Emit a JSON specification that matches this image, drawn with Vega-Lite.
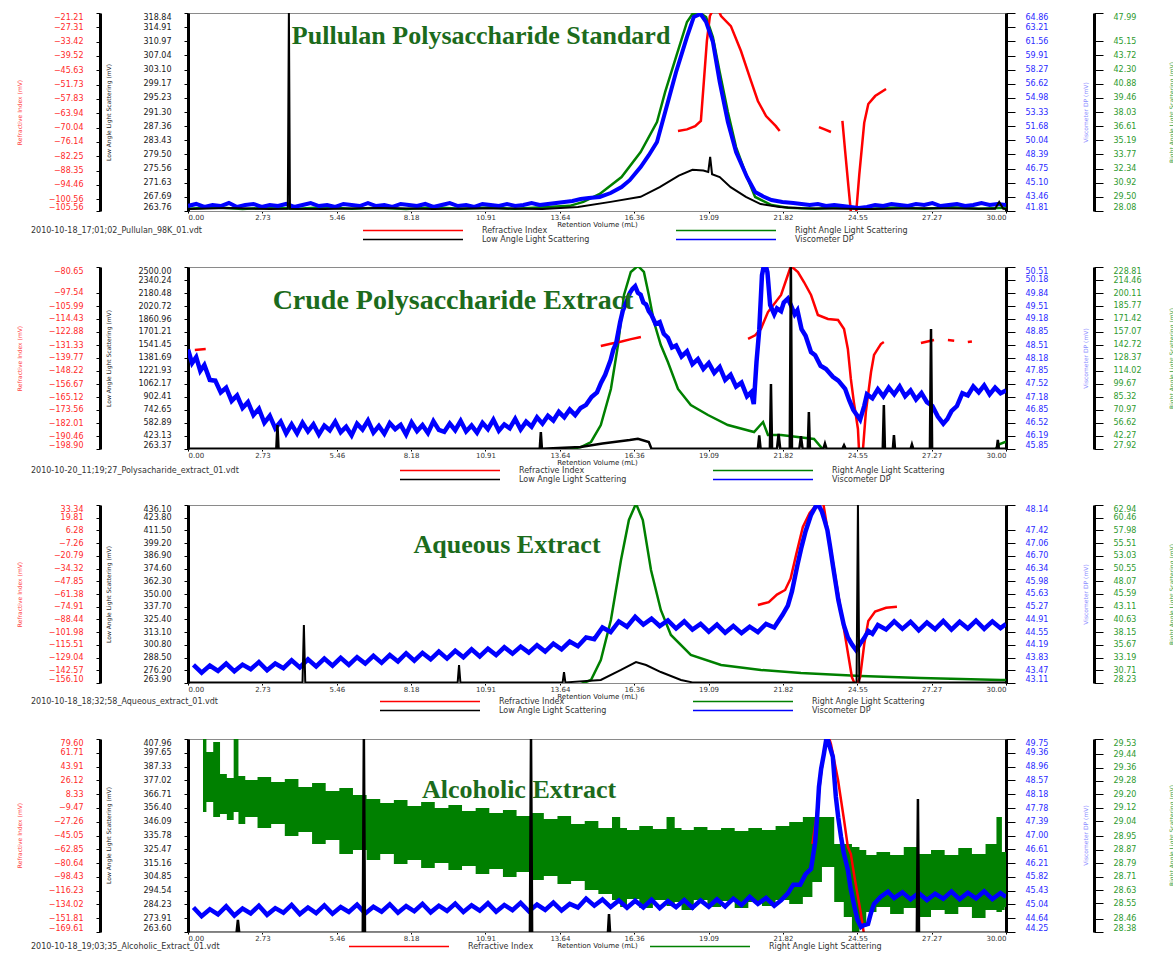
{
"$schema":"https://vega.github.io/schema/vega-lite/v6.json",
"background":"white",
"padding":{"left":15,"top":12,"right":0,"bottom":0},
"bounds":"flush",
"spacing":56,
"config":{"font":"DejaVu Sans","view":{"stroke":"#8a8a8a","strokeWidth":1},
"axis":{"grid":false,"labelOverlap":false,"labelFontSize":8,"titleFontWeight":"normal","domainColor":"#000","tickColor":"#000","labelFlush":true}},
"datasets":{
"p1_ri":[{"x":17.97,"v":-71.5,"g":1},{"x":18.3,"v":-70.8,"g":1},{"x":18.6,"v":-69.4,"g":1},{"x":18.81,"v":-67.2,"g":1},{"x":18.92,"v":-50.2,"g":1},{"x":19.03,"v":-33.1,"g":1},{"x":19.14,"v":-22.5,"g":1},{"x":19.25,"v":-20,"g":1},{"x":19.45,"v":-20,"g":1},{"x":19.55,"v":-22.5,"g":1},{"x":19.91,"v":-26.8,"g":1},{"x":20.28,"v":-37.4,"g":1},{"x":20.65,"v":-50.2,"g":1},{"x":20.9,"v":-58.7,"g":1},{"x":21.2,"v":-65.1,"g":1},{"x":21.56,"v":-69.4,"g":1},{"x":21.7,"v":-71.5,"g":1},{"x":23.14,"v":-69.8,"g":2},{"x":23.35,"v":-70.8,"g":2},{"x":23.58,"v":-71.9,"g":2},{"x":24.0,"v":-67.2,"g":3},{"x":24.1,"v":-80,"g":3},{"x":24.22,"v":-95,"g":3},{"x":24.32,"v":-107,"g":3},{"x":24.5,"v":-107,"g":3},{"x":24.62,"v":-90,"g":3},{"x":24.8,"v":-68,"g":3},{"x":24.95,"v":-60,"g":3},{"x":25.2,"v":-56.6,"g":3},{"x":25.6,"v":-53.6,"g":3}],
"p1_lals":[{"x":0,"v":264.3},{"x":1.5,"v":264.6},{"x":3.0,"v":264.3},{"x":3.66,"v":264.4},{"x":3.7,"v":320},{"x":3.74,"v":264.4},{"x":5,"v":264.3},{"x":7,"v":264.6},{"x":9,"v":264.3},{"x":11,"v":264.5},{"x":13,"v":264.3},{"x":14.3,"v":264.9},{"x":15.5,"v":266.3},{"x":16.6,"v":267.7},{"x":17.3,"v":270.4},{"x":18.0,"v":273.6},{"x":18.5,"v":275.2},{"x":18.9,"v":275.0},{"x":19.08,"v":274.6},{"x":19.15,"v":278.8},{"x":19.22,"v":274.0},{"x":19.5,"v":273.2},{"x":19.9,"v":270.4},{"x":20.46,"v":267.7},{"x":21.0,"v":265.7},{"x":21.7,"v":264.9},{"x":22.5,"v":264.5},{"x":25,"v":264.3},{"x":27,"v":264.5},{"x":29.6,"v":264.4},{"x":29.75,"v":266.3},{"x":29.9,"v":264.4},{"x":30,"v":264.3}],
"p1_dp":[{"x":0,"v":42.4},{"x":0.3,"v":42.63},{"x":0.6,"v":42.28},{"x":0.9,"v":42.51},{"x":1.2,"v":42.39},{"x":1.5,"v":42.74},{"x":1.8,"v":42.28},{"x":2.1,"v":42.51},{"x":2.4,"v":42.63},{"x":2.7,"v":42.28},{"x":3.0,"v":42.51},{"x":3.3,"v":42.39},{"x":3.6,"v":42.63},{"x":3.9,"v":42.28},{"x":4.2,"v":42.51},{"x":4.5,"v":42.74},{"x":4.8,"v":42.39},{"x":5.1,"v":42.51},{"x":5.4,"v":42.28},{"x":5.7,"v":42.63},{"x":6.0,"v":42.51},{"x":6.3,"v":42.39},{"x":6.6,"v":42.74},{"x":6.9,"v":42.39},{"x":7.2,"v":42.51},{"x":7.5,"v":42.28},{"x":7.8,"v":42.63},{"x":8.1,"v":42.51},{"x":8.4,"v":42.39},{"x":8.7,"v":42.63},{"x":9.0,"v":42.28},{"x":9.3,"v":42.51},{"x":9.6,"v":42.74},{"x":9.9,"v":42.39},{"x":10.2,"v":42.51},{"x":10.5,"v":42.28},{"x":10.8,"v":42.63},{"x":11.1,"v":42.51},{"x":11.4,"v":42.39},{"x":11.7,"v":42.63},{"x":12.0,"v":42.39},{"x":12.3,"v":42.51},{"x":12.6,"v":42.74},{"x":12.9,"v":42.51},{"x":13.2,"v":42.63},{"x":13.5,"v":42.74},{"x":13.8,"v":42.86},{"x":14.1,"v":42.98},{"x":14.4,"v":43.21},{"x":14.7,"v":43.33},{"x":15.1,"v":43.44},{"x":15.5,"v":43.9},{"x":15.9,"v":44.6},{"x":16.2,"v":45.4},{"x":16.6,"v":46.93},{"x":16.9,"v":48.3},{"x":17.2,"v":49.84},{"x":17.5,"v":53.34},{"x":17.9,"v":57.99},{"x":18.3,"v":62.07},{"x":18.55,"v":64.4},{"x":18.8,"v":64.74},{"x":19.0,"v":63.82},{"x":19.25,"v":61.49},{"x":19.5,"v":56.83},{"x":19.8,"v":52.17},{"x":20.1,"v":48.68},{"x":20.5,"v":45.77},{"x":20.8,"v":44.02},{"x":21.1,"v":43.5},{"x":21.4,"v":43.09},{"x":21.8,"v":42.86},{"x":22.2,"v":42.74},{"x":22.5,"v":42.63},{"x":22.8,"v":42.51},{"x":23.1,"v":42.63},{"x":23.4,"v":42.39},{"x":23.7,"v":42.51},{"x":24.0,"v":42.39},{"x":24.3,"v":42.28},{"x":24.6,"v":42.16},{"x":24.9,"v":42.28},{"x":25.2,"v":42.51},{"x":25.5,"v":42.39},{"x":25.8,"v":42.63},{"x":26.1,"v":42.51},{"x":26.4,"v":42.39},{"x":26.7,"v":42.63},{"x":27.0,"v":42.51},{"x":27.3,"v":42.74},{"x":27.6,"v":42.39},{"x":27.9,"v":42.51},{"x":28.2,"v":42.63},{"x":28.5,"v":42.39},{"x":28.8,"v":42.51},{"x":29.1,"v":42.74},{"x":29.4,"v":42.51},{"x":29.7,"v":42.63},{"x":30.0,"v":42.51}],
"p1_rals":[{"x":0,"v":28.3},{"x":1,"v":28.45},{"x":2,"v":28.28},{"x":3,"v":28.42},{"x":4,"v":28.3},{"x":5,"v":28.45},{"x":6,"v":28.3},{"x":7,"v":28.4},{"x":8,"v":28.28},{"x":9,"v":28.45},{"x":10,"v":28.3},{"x":11,"v":28.42},{"x":12,"v":28.3},{"x":13,"v":28.45},{"x":14.0,"v":28.6},{"x":14.5,"v":29.0},{"x":15.1,"v":29.79},{"x":15.9,"v":31.5},{"x":16.6,"v":34.01},{"x":17.2,"v":37.03},{"x":17.5,"v":40.05},{"x":17.9,"v":43.57},{"x":18.3,"v":47.09},{"x":18.5,"v":47.89},{"x":18.8,"v":47.95},{"x":19.0,"v":47.59},{"x":19.25,"v":45.58},{"x":19.5,"v":42.06},{"x":19.8,"v":38.04},{"x":20.1,"v":34.51},{"x":20.5,"v":31.5},{"x":20.8,"v":29.49},{"x":21.4,"v":28.68},{"x":22.0,"v":28.4},{"x":23,"v":28.3},{"x":24,"v":28.45},{"x":25,"v":28.3},{"x":26,"v":28.42},{"x":27,"v":28.3},{"x":28,"v":28.45},{"x":29,"v":28.3},{"x":30,"v":28.4}],
"p2_ri":[{"x":0.25,"v":-134.6,"g":1},{"x":0.65,"v":-134.0,"g":1},{"x":15.14,"v":-132.0,"g":2},{"x":15.5,"v":-130.5,"g":2},{"x":15.9,"v":-129.0,"g":2},{"x":16.25,"v":-127.5,"g":2},{"x":16.61,"v":-126.1,"g":2},{"x":20.54,"v":-127.4,"g":3},{"x":20.8,"v":-125,"g":3},{"x":21.01,"v":-120.9,"g":3},{"x":21.27,"v":-109.9,"g":3},{"x":21.75,"v":-98.85,"g":3},{"x":22.0,"v":-85.85,"g":3},{"x":22.11,"v":-80.0,"g":3},{"x":22.37,"v":-83.9,"g":3},{"x":22.59,"v":-90.4,"g":3},{"x":22.85,"v":-98.85,"g":3},{"x":23.1,"v":-111.8,"g":3},{"x":23.47,"v":-114.4,"g":3},{"x":23.84,"v":-115.1,"g":3},{"x":24.06,"v":-120.9,"g":3},{"x":24.2,"v":-133.9,"g":3},{"x":24.31,"v":-153.4,"g":3},{"x":24.42,"v":-168.4,"g":3},{"x":24.57,"v":-185.9,"g":3},{"x":24.61,"v":-200,"g":3},{"x":24.75,"v":-200,"g":3},{"x":24.86,"v":-174.9,"g":3},{"x":25.05,"v":-148.9,"g":3},{"x":25.16,"v":-137.8,"g":3},{"x":25.41,"v":-130.7,"g":3},{"x":25.52,"v":-129.4,"g":3},{"x":26.88,"v":-130.0,"g":4},{"x":27.36,"v":-128.1,"g":4},{"x":27.87,"v":-128.1,"g":5},{"x":28.1,"v":-128.5,"g":5},{"x":28.6,"v":-129.4,"g":6},{"x":28.75,"v":-129.0,"g":6}],
"p2_lals":[{"x":0,"v":265},{"x":3.24,"v":265},{"x":3.28,"v":558},{"x":3.32,"v":265},{"x":12.9,"v":265},{"x":12.94,"v":470},{"x":12.98,"v":265},{"x":14.4,"v":288},{"x":15.2,"v":330},{"x":16.2,"v":374},{"x":16.5,"v":390},{"x":16.9,"v":350},{"x":17.0,"v":265},{"x":20.9,"v":265},{"x":20.95,"v":430},{"x":21.0,"v":265},{"x":21.34,"v":265},{"x":21.38,"v":1062},{"x":21.42,"v":265},{"x":21.6,"v":265},{"x":21.66,"v":450},{"x":21.72,"v":265},{"x":22.07,"v":265},{"x":22.11,"v":2550},{"x":22.15,"v":265},{"x":22.42,"v":265},{"x":22.48,"v":420},{"x":22.54,"v":265},{"x":22.73,"v":265},{"x":22.77,"v":718},{"x":22.81,"v":265},{"x":23.3,"v":265},{"x":23.36,"v":330},{"x":23.42,"v":265},{"x":24.0,"v":265},{"x":24.06,"v":310},{"x":24.12,"v":265},{"x":25.48,"v":265},{"x":25.52,"v":804},{"x":25.56,"v":265},{"x":25.85,"v":265},{"x":25.89,"v":435},{"x":25.93,"v":265},{"x":26.5,"v":265},{"x":26.55,"v":320},{"x":26.6,"v":265},{"x":27.21,"v":265},{"x":27.25,"v":1738},{"x":27.29,"v":265},{"x":29.66,"v":265},{"x":29.7,"v":374},{"x":29.74,"v":265},{"x":30,"v":265}],
"p2_dp":[{"x":0.0,"v":48.4},{"x":0.15,"v":48.05},{"x":0.3,"v":48.2},{"x":0.45,"v":47.85},{"x":0.6,"v":48.0},{"x":0.8,"v":47.62},{"x":1.0,"v":47.6},{"x":1.2,"v":47.3},{"x":1.4,"v":47.42},{"x":1.6,"v":47.08},{"x":1.8,"v":47.22},{"x":2.0,"v":46.9},{"x":2.2,"v":47.05},{"x":2.4,"v":46.72},{"x":2.6,"v":46.88},{"x":2.8,"v":46.52},{"x":3.0,"v":46.7},{"x":3.2,"v":46.38},{"x":3.4,"v":46.55},{"x":3.6,"v":46.25},{"x":3.8,"v":46.48},{"x":4.0,"v":46.25},{"x":4.2,"v":46.52},{"x":4.4,"v":46.3},{"x":4.6,"v":46.48},{"x":4.8,"v":46.22},{"x":5.0,"v":46.45},{"x":5.2,"v":46.33},{"x":5.4,"v":46.55},{"x":5.6,"v":46.28},{"x":5.8,"v":46.42},{"x":6.0,"v":46.2},{"x":6.2,"v":46.5},{"x":6.4,"v":46.35},{"x":6.6,"v":46.58},{"x":6.8,"v":46.27},{"x":7.0,"v":46.44},{"x":7.2,"v":46.24},{"x":7.4,"v":46.51},{"x":7.6,"v":46.36},{"x":7.8,"v":46.47},{"x":8.0,"v":46.22},{"x":8.2,"v":46.53},{"x":8.4,"v":46.31},{"x":8.6,"v":46.46},{"x":8.8,"v":46.26},{"x":9.0,"v":46.56},{"x":9.2,"v":46.34},{"x":9.4,"v":46.29},{"x":9.6,"v":46.5},{"x":9.8,"v":46.33},{"x":10.0,"v":46.57},{"x":10.2,"v":46.3},{"x":10.4,"v":46.45},{"x":10.6,"v":46.27},{"x":10.8,"v":46.52},{"x":11.0,"v":46.36},{"x":11.2,"v":46.6},{"x":11.4,"v":46.32},{"x":11.6,"v":46.48},{"x":11.8,"v":46.38},{"x":12.0,"v":46.62},{"x":12.2,"v":46.35},{"x":12.4,"v":46.55},{"x":12.6,"v":46.42},{"x":12.8,"v":46.66},{"x":13.0,"v":46.5},{"x":13.2,"v":46.7},{"x":13.4,"v":46.58},{"x":13.6,"v":46.8},{"x":13.8,"v":46.66},{"x":14.0,"v":46.86},{"x":14.2,"v":46.72},{"x":14.4,"v":46.9},{"x":14.6,"v":46.98},{"x":14.8,"v":47.18},{"x":15.0,"v":47.3},{"x":15.15,"v":47.55},{"x":15.3,"v":47.75},{"x":15.5,"v":48.13},{"x":15.6,"v":48.4},{"x":15.7,"v":48.55},{"x":15.85,"v":49.1},{"x":15.95,"v":49.4},{"x":16.1,"v":49.65},{"x":16.2,"v":49.84},{"x":16.3,"v":49.95},{"x":16.4,"v":50.02},{"x":16.5,"v":49.85},{"x":16.6,"v":49.8},{"x":16.7,"v":49.6},{"x":16.8,"v":49.55},{"x":16.9,"v":49.38},{"x":17.0,"v":49.28},{"x":17.15,"v":49.05},{"x":17.3,"v":49.1},{"x":17.45,"v":48.8},{"x":17.6,"v":48.7},{"x":17.75,"v":48.45},{"x":17.9,"v":48.5},{"x":18.1,"v":48.22},{"x":18.3,"v":48.35},{"x":18.5,"v":48.02},{"x":18.7,"v":48.15},{"x":18.9,"v":47.9},{"x":19.1,"v":48.05},{"x":19.3,"v":47.8},{"x":19.5,"v":47.95},{"x":19.7,"v":47.62},{"x":19.9,"v":47.75},{"x":20.1,"v":47.45},{"x":20.3,"v":47.55},{"x":20.5,"v":47.2},{"x":20.65,"v":47.3},{"x":20.75,"v":47.0},{"x":20.85,"v":48.08},{"x":20.95,"v":48.9},{"x":21.05,"v":50.3},{"x":21.15,"v":50.65},{"x":21.25,"v":50.38},{"x":21.35,"v":49.54},{"x":21.5,"v":49.3},{"x":21.6,"v":49.45},{"x":21.75,"v":49.38},{"x":21.85,"v":49.6},{"x":22.0,"v":49.7},{"x":22.1,"v":49.55},{"x":22.25,"v":49.3},{"x":22.35,"v":49.4},{"x":22.5,"v":48.92},{"x":22.65,"v":48.75},{"x":22.85,"v":48.33},{"x":23.0,"v":48.25},{"x":23.2,"v":47.98},{"x":23.4,"v":47.9},{"x":23.65,"v":47.7},{"x":23.85,"v":47.6},{"x":24.1,"v":47.39},{"x":24.25,"v":47.1},{"x":24.4,"v":46.85},{"x":24.55,"v":46.7},{"x":24.65,"v":46.6},{"x":24.8,"v":46.95},{"x":24.9,"v":47.25},{"x":25.1,"v":47.15},{"x":25.3,"v":47.38},{"x":25.5,"v":47.2},{"x":25.7,"v":47.42},{"x":25.9,"v":47.25},{"x":26.1,"v":47.45},{"x":26.3,"v":47.2},{"x":26.5,"v":47.35},{"x":26.7,"v":47.12},{"x":26.9,"v":47.28},{"x":27.1,"v":47.05},{"x":27.3,"v":46.95},{"x":27.5,"v":46.68},{"x":27.7,"v":46.5},{"x":27.85,"v":46.62},{"x":28.0,"v":46.82},{"x":28.2,"v":46.95},{"x":28.4,"v":47.28},{"x":28.6,"v":47.22},{"x":28.8,"v":47.45},{"x":29.0,"v":47.3},{"x":29.2,"v":47.48},{"x":29.4,"v":47.25},{"x":29.6,"v":47.42},{"x":29.8,"v":47.28},{"x":30.0,"v":47.35}],
"p2_rals":[{"x":0,"v":27.0},{"x":14.0,"v":27.5},{"x":14.41,"v":30.13},{"x":14.78,"v":35.65},{"x":15.14,"v":54.41},{"x":15.51,"v":94.15},{"x":15.77,"v":142.7},{"x":15.99,"v":197.9},{"x":16.24,"v":223.3},{"x":16.5,"v":230},{"x":16.72,"v":223.3},{"x":16.9,"v":197.9},{"x":17.09,"v":168.1},{"x":17.34,"v":142.7},{"x":17.6,"v":123.9},{"x":17.97,"v":94.15},{"x":18.44,"v":76.49},{"x":19.07,"v":65.45},{"x":19.8,"v":54.41},{"x":20.76,"v":46.68},{"x":21.09,"v":57.72},{"x":21.27,"v":43.37},{"x":21.75,"v":43.37},{"x":22.96,"v":38.96},{"x":23.3,"v":27.0},{"x":29.6,"v":27.0},{"x":29.75,"v":33},{"x":30,"v":36}],
"p3_ri":[{"x":20.9,"v":-73.1},{"x":21.3,"v":-70},{"x":21.6,"v":-62},{"x":21.9,"v":-57.1},{"x":22.1,"v":-45},{"x":22.3,"v":-20},{"x":22.55,"v":10},{"x":22.8,"v":25},{"x":23.05,"v":33.5},{"x":23.3,"v":35},{"x":23.45,"v":8},{"x":23.7,"v":-36},{"x":23.95,"v":-80},{"x":24.15,"v":-115},{"x":24.35,"v":-150},{"x":24.5,"v":-160},{"x":24.65,"v":-150},{"x":24.8,"v":-115},{"x":24.95,"v":-90},{"x":25.2,"v":-80},{"x":25.6,"v":-76},{"x":26.0,"v":-75}],
"p3_lals":[{"x":0,"v":264.5},{"x":4.2,"v":264.5},{"x":4.25,"v":320},{"x":4.3,"v":264.5},{"x":9.89,"v":264.5},{"x":9.94,"v":281.3},{"x":9.99,"v":264.5},{"x":13.74,"v":264.5},{"x":13.79,"v":274.5},{"x":13.84,"v":264.5},{"x":15.14,"v":266.8},{"x":15.88,"v":276.5},{"x":16.43,"v":284.2},{"x":16.8,"v":281.3},{"x":17.34,"v":274.5},{"x":18.08,"v":266.8},{"x":18.5,"v":264.5},{"x":24.52,"v":264.5},{"x":24.57,"v":437},{"x":24.62,"v":264.5},{"x":30,"v":264.5}],
"p3_dp":[{"x":0.2,"v":43.62},{"x":0.5,"v":43.4},{"x":0.8,"v":43.6},{"x":1.1,"v":43.45},{"x":1.4,"v":43.66},{"x":1.7,"v":43.44},{"x":2.0,"v":43.63},{"x":2.3,"v":43.5},{"x":2.6,"v":43.7},{"x":2.9,"v":43.47},{"x":3.2,"v":43.66},{"x":3.5,"v":43.53},{"x":3.8,"v":43.75},{"x":4.1,"v":43.55},{"x":4.4,"v":43.78},{"x":4.7,"v":43.58},{"x":5.0,"v":43.8},{"x":5.3,"v":43.6},{"x":5.6,"v":43.82},{"x":5.9,"v":43.62},{"x":6.2,"v":43.84},{"x":6.5,"v":43.66},{"x":6.8,"v":43.88},{"x":7.1,"v":43.68},{"x":7.4,"v":43.9},{"x":7.7,"v":43.72},{"x":8.0,"v":43.95},{"x":8.3,"v":43.74},{"x":8.6,"v":43.96},{"x":8.9,"v":43.78},{"x":9.2,"v":44.0},{"x":9.5,"v":43.8},{"x":9.8,"v":44.02},{"x":10.1,"v":43.84},{"x":10.4,"v":44.06},{"x":10.7,"v":43.86},{"x":11.0,"v":44.08},{"x":11.3,"v":43.9},{"x":11.6,"v":44.12},{"x":11.9,"v":43.94},{"x":12.2,"v":44.14},{"x":12.5,"v":43.97},{"x":12.8,"v":44.18},{"x":13.1,"v":44.0},{"x":13.4,"v":44.22},{"x":13.7,"v":44.06},{"x":14.0,"v":44.28},{"x":14.3,"v":44.15},{"x":14.6,"v":44.4},{"x":14.9,"v":44.35},{"x":15.2,"v":44.68},{"x":15.5,"v":44.55},{"x":15.8,"v":44.85},{"x":16.1,"v":44.7},{"x":16.4,"v":44.98},{"x":16.7,"v":44.76},{"x":17.0,"v":44.93},{"x":17.3,"v":44.72},{"x":17.6,"v":44.88},{"x":17.9,"v":44.65},{"x":18.2,"v":44.85},{"x":18.5,"v":44.62},{"x":18.8,"v":44.78},{"x":19.1,"v":44.56},{"x":19.4,"v":44.76},{"x":19.7,"v":44.53},{"x":20.0,"v":44.72},{"x":20.3,"v":44.52},{"x":20.6,"v":44.7},{"x":20.9,"v":44.55},{"x":21.2,"v":44.78},{"x":21.5,"v":44.68},{"x":21.8,"v":45.03},{"x":22.0,"v":45.3},{"x":22.15,"v":45.7},{"x":22.35,"v":46.44},{"x":22.5,"v":46.95},{"x":22.65,"v":47.4},{"x":22.85,"v":47.86},{"x":23.05,"v":48.14},{"x":23.15,"v":48.1},{"x":23.25,"v":47.95},{"x":23.35,"v":47.7},{"x":23.45,"v":47.43},{"x":23.55,"v":46.95},{"x":23.65,"v":46.44},{"x":23.75,"v":45.95},{"x":23.85,"v":45.46},{"x":23.95,"v":45.1},{"x":24.05,"v":44.75},{"x":24.2,"v":44.4},{"x":24.35,"v":44.2},{"x":24.5,"v":44.04},{"x":24.65,"v":44.22},{"x":24.8,"v":44.38},{"x":24.95,"v":44.58},{"x":25.1,"v":44.5},{"x":25.3,"v":44.75},{"x":25.6,"v":44.62},{"x":25.9,"v":44.85},{"x":26.2,"v":44.64},{"x":26.5,"v":44.84},{"x":26.8,"v":44.6},{"x":27.1,"v":44.82},{"x":27.4,"v":44.63},{"x":27.7,"v":44.86},{"x":28.0,"v":44.62},{"x":28.3,"v":44.84},{"x":28.6,"v":44.65},{"x":28.9,"v":44.87},{"x":29.2,"v":44.64},{"x":29.5,"v":44.85},{"x":29.8,"v":44.66},{"x":30.0,"v":44.78}],
"p3_rals":[{"x":0,"v":28.0},{"x":14.4,"v":28.0},{"x":14.78,"v":28.82},{"x":15.14,"v":32.72},{"x":15.51,"v":40.52},{"x":15.88,"v":52.22},{"x":16.17,"v":60.02},{"x":16.43,"v":63.2},{"x":16.68,"v":60.02},{"x":16.98,"v":50.27},{"x":17.34,"v":42.47},{"x":17.71,"v":37.59},{"x":18.44,"v":33.69},{"x":19.55,"v":31.74},{"x":21.01,"v":30.77},{"x":22.48,"v":30.18},{"x":24.68,"v":29.6},{"x":26.88,"v":29.21},{"x":29.81,"v":28.82},{"x":30,"v":28.8}],
"p4_ri":[{"x":22.9,"v":-56},{"x":23.05,"v":-20},{"x":23.2,"v":30},{"x":23.35,"v":70},{"x":23.5,"v":82},{"x":23.58,"v":73.2},{"x":23.84,"v":26.7},{"x":24.06,"v":-25.0},{"x":24.2,"v":-59.8},{"x":24.31,"v":-68.9},{"x":24.45,"v":-100},{"x":24.68,"v":-146.4},{"x":24.79,"v":-172.2}],
"p4_lals":[{"x":0,"v":263},{"x":1.78,"v":263},{"x":1.83,"v":272.6},{"x":1.88,"v":263},{"x":6.41,"v":263},{"x":6.45,"v":410},{"x":6.49,"v":263},{"x":12.54,"v":263},{"x":12.58,"v":410},{"x":12.62,"v":263},{"x":15.4,"v":263},{"x":15.44,"v":277.1},{"x":15.48,"v":263},{"x":26.73,"v":263},{"x":26.77,"v":363.1},{"x":26.81,"v":263},{"x":30,"v":263}],
"p4_dp":[{"x":0.2,"v":44.95},{"x":0.5,"v":44.7},{"x":0.8,"v":44.9},{"x":1.1,"v":44.75},{"x":1.4,"v":44.98},{"x":1.7,"v":44.72},{"x":2.0,"v":44.92},{"x":2.3,"v":44.78},{"x":2.6,"v":45.0},{"x":2.9,"v":44.74},{"x":3.2,"v":44.93},{"x":3.5,"v":44.8},{"x":3.8,"v":45.02},{"x":4.1,"v":44.76},{"x":4.4,"v":44.95},{"x":4.7,"v":44.79},{"x":5.0,"v":45.01},{"x":5.3,"v":44.77},{"x":5.6,"v":44.96},{"x":5.9,"v":44.82},{"x":6.2,"v":45.03},{"x":6.5,"v":44.78},{"x":6.8,"v":44.97},{"x":7.1,"v":44.83},{"x":7.4,"v":45.04},{"x":7.7,"v":44.8},{"x":8.0,"v":44.99},{"x":8.3,"v":44.84},{"x":8.6,"v":45.05},{"x":8.9,"v":44.81},{"x":9.2,"v":45.0},{"x":9.5,"v":44.85},{"x":9.8,"v":45.06},{"x":10.1,"v":44.82},{"x":10.4,"v":45.01},{"x":10.7,"v":44.86},{"x":11.0,"v":45.07},{"x":11.3,"v":44.83},{"x":11.6,"v":45.02},{"x":11.9,"v":44.87},{"x":12.2,"v":45.08},{"x":12.5,"v":44.84},{"x":12.8,"v":45.03},{"x":13.1,"v":44.88},{"x":13.4,"v":45.09},{"x":13.7,"v":44.86},{"x":14.0,"v":45.05},{"x":14.3,"v":44.95},{"x":14.6,"v":45.2},{"x":14.9,"v":45.0},{"x":15.2,"v":45.18},{"x":15.5,"v":44.96},{"x":15.8,"v":45.15},{"x":16.1,"v":44.94},{"x":16.4,"v":45.14},{"x":16.7,"v":44.95},{"x":17.0,"v":45.17},{"x":17.3,"v":44.93},{"x":17.6,"v":45.13},{"x":17.9,"v":44.96},{"x":18.2,"v":45.16},{"x":18.5,"v":44.94},{"x":18.8,"v":45.15},{"x":19.1,"v":44.97},{"x":19.4,"v":45.18},{"x":19.7,"v":44.98},{"x":20.0,"v":45.2},{"x":20.3,"v":45.02},{"x":20.6,"v":45.25},{"x":20.9,"v":45.05},{"x":21.2,"v":45.22},{"x":21.5,"v":45.0},{"x":21.75,"v":45.15},{"x":22.0,"v":45.35},{"x":22.2,"v":45.6},{"x":22.45,"v":45.6},{"x":22.65,"v":45.9},{"x":22.85,"v":46.05},{"x":23.0,"v":46.8},{"x":23.08,"v":47.6},{"x":23.14,"v":48.38},{"x":23.22,"v":48.9},{"x":23.32,"v":49.32},{"x":23.4,"v":49.7},{"x":23.47,"v":49.72},{"x":23.55,"v":49.5},{"x":23.65,"v":49.24},{"x":23.7,"v":48.7},{"x":23.76,"v":48.1},{"x":23.85,"v":47.5},{"x":23.95,"v":46.96},{"x":24.05,"v":46.5},{"x":24.2,"v":46.02},{"x":24.3,"v":45.5},{"x":24.42,"v":45.05},{"x":24.55,"v":44.6},{"x":24.68,"v":44.39},{"x":24.8,"v":44.45},{"x":24.94,"v":44.48},{"x":25.05,"v":44.8},{"x":25.16,"v":45.05},{"x":25.4,"v":45.25},{"x":25.67,"v":45.4},{"x":25.9,"v":45.22},{"x":26.2,"v":45.38},{"x":26.5,"v":45.18},{"x":26.8,"v":45.36},{"x":27.1,"v":45.16},{"x":27.4,"v":45.34},{"x":27.7,"v":45.2},{"x":28.0,"v":45.4},{"x":28.3,"v":45.18},{"x":28.6,"v":45.37},{"x":28.9,"v":45.21},{"x":29.2,"v":45.41},{"x":29.5,"v":45.19},{"x":29.8,"v":45.36},{"x":30.0,"v":45.25}],
"p4_rals":[{"x":0.55,"hi":29.56,"lo":29.095},{"x":0.8,"hi":29.453,"lo":29.155},{"x":1.05,"hi":29.512,"lo":29.065},{"x":1.3,"hi":29.322,"lo":29.083},{"x":1.55,"hi":29.298,"lo":29.047},{"x":1.8,"hi":29.56,"lo":29.095},{"x":1.9,"hi":29.31,"lo":29.024},{"x":2.3,"hi":29.286,"lo":29.065},{"x":2.8,"hi":29.304,"lo":29.0},{"x":3.3,"hi":29.274,"lo":29.024},{"x":3.8,"hi":29.292,"lo":28.952},{"x":4.3,"hi":29.244,"lo":28.976},{"x":4.8,"hi":29.268,"lo":28.904},{"x":5.3,"hi":29.22,"lo":28.928},{"x":5.8,"hi":29.238,"lo":28.845},{"x":6.3,"hi":29.196,"lo":28.869},{"x":6.8,"hi":29.173,"lo":28.809},{"x":7.3,"hi":29.149,"lo":28.845},{"x":7.8,"hi":29.167,"lo":28.785},{"x":8.3,"hi":29.131,"lo":28.809},{"x":8.8,"hi":29.155,"lo":28.761},{"x":9.3,"hi":29.119,"lo":28.791},{"x":9.8,"hi":29.137,"lo":28.75},{"x":10.3,"hi":29.101,"lo":28.773},{"x":10.8,"hi":29.119,"lo":28.726},{"x":11.3,"hi":29.089,"lo":28.755},{"x":11.8,"hi":29.107,"lo":28.708},{"x":12.3,"hi":29.071,"lo":28.738},{"x":12.8,"hi":29.089,"lo":28.69},{"x":13.3,"hi":29.053,"lo":28.714},{"x":13.8,"hi":29.071,"lo":28.666},{"x":14.3,"hi":29.024,"lo":28.684},{"x":14.8,"hi":29.041,"lo":28.63},{"x":15.3,"hi":29.0,"lo":28.606},{"x":15.8,"hi":29.065,"lo":28.571},{"x":15.9,"hi":29.0,"lo":28.529},{"x":16.3,"hi":28.988,"lo":28.577},{"x":16.8,"hi":29.012,"lo":28.523},{"x":17.3,"hi":28.994,"lo":28.571},{"x":17.8,"hi":29.065,"lo":28.535},{"x":17.9,"hi":29.0,"lo":28.559},{"x":18.3,"hi":28.988,"lo":28.511},{"x":18.8,"hi":29.006,"lo":28.571},{"x":19.3,"hi":28.988,"lo":28.529},{"x":19.8,"hi":29.0,"lo":28.565},{"x":20.3,"hi":28.982,"lo":28.523},{"x":20.8,"hi":29.0,"lo":28.559},{"x":21.3,"hi":28.988,"lo":28.535},{"x":21.8,"hi":29.012,"lo":28.571},{"x":22.3,"hi":29.036,"lo":28.547},{"x":22.8,"hi":29.065,"lo":28.589},{"x":23.0,"hi":29.065,"lo":28.678},{"x":23.5,"hi":29.065,"lo":28.767},{"x":23.9,"hi":28.904,"lo":28.559},{"x":24.2,"hi":28.904,"lo":28.469},{"x":24.5,"hi":28.887,"lo":28.37},{"x":24.75,"hi":28.869,"lo":28.41},{"x":25.0,"hi":28.839,"lo":28.499},{"x":25.5,"hi":28.857,"lo":28.529},{"x":26.0,"hi":28.839,"lo":28.487},{"x":26.5,"hi":28.887,"lo":28.523},{"x":27.0,"hi":28.845,"lo":28.469},{"x":27.5,"hi":28.869,"lo":28.511},{"x":28.0,"hi":28.839,"lo":28.487},{"x":28.5,"hi":28.881,"lo":28.529},{"x":29.0,"hi":28.845,"lo":28.463},{"x":29.5,"hi":28.904,"lo":28.511},{"x":29.8,"hi":29.065,"lo":28.499},{"x":29.9,"hi":28.857,"lo":28.511},{"x":30.0,"hi":28.857,"lo":28.529}]
},
"vconcat":[
{"width":818,"height":198,
"layer":[
{"data":{"name":"p1_rals"},"mark":{"type":"line","clip":true,"strokeWidth":2.5},
"encoding":{"x":{"field":"x","type":"quantitative","scale":{"domain":[0,30]},"axis":{"values":[0,2.73,5.46,8.18,10.91,13.64,16.36,19.09,21.82,24.55,27.27,30],"format":".2f","title":"Retention Volume (mL)","titleFontSize":7,"titleColor":"#222","labelColor":"#333","labelFontSize":7,"tickSize":2,"labelPadding":0,"titlePadding":0,"domainColor":"#8a8a8a","domainWidth":1}},
"y":{"field":"v","type":"quantitative","scale":{"domain":[28.08,47.99]},"axis":{"orient":"right","offset":88,"values":[47.99,45.15,43.72,42.30,40.88,39.46,38.03,36.61,35.19,33.77,32.34,30.92,29.50,28.08],"format":".2f","labelColor":"#2e9a2e","tickSize":9,"labelPadding":10,"domainWidth":3,"title":"Right Angle Light Scattering (mV)","titleColor":"#3ca03c","titleFontSize":6,"titleX":77,"titleY":99,"titleAngle":270,"titleAlign":"center","titleBaseline":"middle"}},
"color":{"datum":"Right Angle Light Scattering","type":"nominal","scale":{"domain":["Refractive Index","Right Angle Light Scattering","Low Angle Light Scattering","Viscometer DP"],"range":["#ff0000","#008000","#000000","#0000ff"]},
"legend":{"title":"2010-10-18_17;01;02_Pullulan_98K_01.vdt","orient":"none","legendX":-157,"legendY":214,"direction":"horizontal","columns":2,"gridAlign":"none","titleOrient":"left","titleAnchor":"start","titleBaseline":"top","titleFontSize":8,"titleFontWeight":"normal","titleColor":"#333","titlePadding":160,"titleLimit":500,"labelLimit":400,"labelFontSize":8,"labelColor":"#333","symbolType":"stroke","symbolSize":10000,"symbolStrokeWidth":1.5,"labelOffset":18,"columnPadding":85,"rowPadding":0,"padding":0,"clipHeight":7}}}},
{"data":{"name":"p1_ri"},"mark":{"type":"line","clip":true,"strokeWidth":2.5},
"encoding":{"x":{"field":"x","type":"quantitative","scale":{"domain":[0,30]}},
"y":{"field":"v","type":"quantitative","scale":{"domain":[-105.56,-21.21]},"axis":{"orient":"left","offset":88,"values":[-21.21,-27.31,-33.42,-39.52,-45.63,-51.73,-57.83,-63.94,-70.04,-76.14,-82.25,-88.35,-94.46,-100.56,-105.56],"format":".2f","labelColor":"#ff2a2a","tickSize":4,"labelPadding":13,"domainWidth":3,"title":"Refractive Index (mV)","titleColor":"#ff4040","titleFontSize":6,"titleX":-81,"titleY":99,"titleAngle":270,"titleAlign":"center","titleBaseline":"middle"}},
"detail":{"field":"g","type":"nominal"},
"color":{"datum":"Refractive Index","type":"nominal","scale":{"domain":["Refractive Index","Right Angle Light Scattering","Low Angle Light Scattering","Viscometer DP"],"range":["#ff0000","#008000","#000000","#0000ff"]}}}},
{"data":{"name":"p1_dp"},"mark":{"type":"line","clip":true,"strokeWidth":4},
"encoding":{"x":{"field":"x","type":"quantitative","scale":{"domain":[0,30]}},
"y":{"field":"v","type":"quantitative","scale":{"domain":[41.81,64.86]},"axis":{"orient":"right","offset":0,"values":[64.86,63.21,61.56,59.91,58.27,56.62,54.98,53.33,51.68,50.04,48.39,46.75,45.10,43.46,41.81],"format":".2f","labelColor":"#2b2bff","tickSize":9,"labelPadding":10,"domainWidth":3,"title":"Viscometer DP (mV)","titleColor":"#8c8cff","titleFontSize":6,"titleX":79,"titleY":99,"titleAngle":270,"titleAlign":"center","titleBaseline":"middle"}},
"color":{"datum":"Viscometer DP","type":"nominal","scale":{"domain":["Refractive Index","Right Angle Light Scattering","Low Angle Light Scattering","Viscometer DP"],"range":["#ff0000","#008000","#000000","#0000ff"]}}}},
{"data":{"name":"p1_lals"},"mark":{"type":"line","clip":true,"strokeWidth":2},
"encoding":{"x":{"field":"x","type":"quantitative","scale":{"domain":[0,30]}},
"y":{"field":"v","type":"quantitative","scale":{"domain":[263.76,318.84]},"axis":{"orient":"left","offset":0,"values":[318.84,314.91,310.97,307.04,303.10,299.17,295.23,291.30,287.36,283.43,279.50,275.56,271.63,267.69,263.76],"format":".2f","labelColor":"#1a1a1a","tickSize":4,"labelPadding":13,"domainWidth":3,"title":"Low Angle Light Scattering (mV)","titleColor":"#222","titleFontSize":6,"titleX":-80,"titleY":99,"titleAngle":270,"titleAlign":"center","titleBaseline":"middle"}},
"color":{"datum":"Low Angle Light Scattering","type":"nominal","scale":{"domain":["Refractive Index","Right Angle Light Scattering","Low Angle Light Scattering","Viscometer DP"],"range":["#ff0000","#008000","#000000","#0000ff"]}}}},
{"data":{"values":[{"x":10.75,"y":0.883,"label":"Pullulan Polysaccharide Standard"}]},"mark":{"type":"text","font":"Liberation Serif","fontWeight":"bold","fontSize":26,"color":"#1c6b1c"},
"encoding":{"x":{"field":"x","type":"quantitative","scale":{"domain":[0,30]}},"y":{"field":"y","type":"quantitative","scale":{"domain":[0,1]},"axis":null},"text":{"field":"label"}}}
],
"resolve":{"scale":{"y":"independent"}}},

{"width":818,"height":182,
"layer":[
{"data":{"name":"p2_rals"},"mark":{"type":"line","clip":true,"strokeWidth":2.5},
"encoding":{"x":{"field":"x","type":"quantitative","scale":{"domain":[0,30]},"axis":{"values":[0,2.73,5.46,8.18,10.91,13.64,16.36,19.09,21.82,24.55,27.27,30],"format":".2f","title":"Retention Volume (mL)","titleFontSize":7,"titleColor":"#222","labelColor":"#333","labelFontSize":7,"tickSize":2,"labelPadding":0,"titlePadding":0,"domainColor":"#8a8a8a","domainWidth":1}},
"y":{"field":"v","type":"quantitative","scale":{"domain":[27.92,228.81]},"axis":{"orient":"right","offset":88,"values":[228.81,214.46,200.11,185.77,171.42,157.07,142.72,128.37,114.02,99.67,85.32,70.97,56.62,42.27,27.92],"format":".2f","labelColor":"#2e9a2e","tickSize":9,"labelPadding":10,"domainWidth":3,"title":"Right Angle Light Scattering (mV)","titleColor":"#3ca03c","titleFontSize":6,"titleX":77,"titleY":91,"titleAngle":270,"titleAlign":"center","titleBaseline":"middle"}},
"color":{"datum":"Right Angle Light Scattering","type":"nominal","scale":{"domain":["Refractive Index","Right Angle Light Scattering","Low Angle Light Scattering","Viscometer DP"],"range":["#ff0000","#008000","#000000","#0000ff"]},
"legend":{"title":"2010-10-20_11;19;27_Polysacharide_extract_01.vdt","orient":"none","legendX":-157,"legendY":200,"direction":"horizontal","columns":2,"gridAlign":"none","titleOrient":"left","titleAnchor":"start","titleBaseline":"top","titleFontSize":8,"titleFontWeight":"normal","titleColor":"#333","titlePadding":160,"titleLimit":500,"labelLimit":400,"labelFontSize":8,"labelColor":"#333","symbolType":"stroke","symbolSize":10000,"symbolStrokeWidth":1.5,"labelOffset":18,"columnPadding":85,"rowPadding":0,"padding":0,"clipHeight":7}}}},
{"data":{"name":"p2_ri"},"mark":{"type":"line","clip":true,"strokeWidth":2.5},
"encoding":{"x":{"field":"x","type":"quantitative","scale":{"domain":[0,30]}},
"y":{"field":"v","type":"quantitative","scale":{"domain":[-198.90,-80.65]},"axis":{"orient":"left","offset":88,"values":[-80.65,-97.54,-105.99,-114.43,-122.88,-131.33,-139.77,-148.22,-156.67,-165.12,-173.56,-182.01,-190.46,-198.90],"format":".2f","labelColor":"#ff2a2a","tickSize":4,"labelPadding":13,"domainWidth":3,"title":"Refractive Index (mV)","titleColor":"#ff4040","titleFontSize":6,"titleX":-81,"titleY":91,"titleAngle":270,"titleAlign":"center","titleBaseline":"middle"}},
"detail":{"field":"g","type":"nominal"},
"color":{"datum":"Refractive Index","type":"nominal","scale":{"domain":["Refractive Index","Right Angle Light Scattering","Low Angle Light Scattering","Viscometer DP"],"range":["#ff0000","#008000","#000000","#0000ff"]}}}},
{"data":{"name":"p2_dp"},"mark":{"type":"line","clip":true,"strokeWidth":4.5},
"encoding":{"x":{"field":"x","type":"quantitative","scale":{"domain":[0,30]}},
"y":{"field":"v","type":"quantitative","scale":{"domain":[45.85,50.51]},"axis":{"orient":"right","offset":0,"values":[50.51,50.18,49.84,49.51,49.18,48.85,48.51,48.18,47.85,47.52,47.18,46.85,46.52,46.19,45.85],"format":".2f","labelColor":"#2b2bff","tickSize":9,"labelPadding":10,"domainWidth":3,"title":"Viscometer DP (mV)","titleColor":"#8c8cff","titleFontSize":6,"titleX":79,"titleY":91,"titleAngle":270,"titleAlign":"center","titleBaseline":"middle"}},
"color":{"datum":"Viscometer DP","type":"nominal","scale":{"domain":["Refractive Index","Right Angle Light Scattering","Low Angle Light Scattering","Viscometer DP"],"range":["#ff0000","#008000","#000000","#0000ff"]}}}},
{"data":{"name":"p2_lals"},"mark":{"type":"line","clip":true,"strokeWidth":2.5},
"encoding":{"x":{"field":"x","type":"quantitative","scale":{"domain":[0,30]}},
"y":{"field":"v","type":"quantitative","scale":{"domain":[263.37,2500]},"axis":{"orient":"left","offset":0,"values":[2500.00,2340.24,2180.48,2020.72,1860.96,1701.21,1541.45,1381.69,1221.93,1062.17,902.41,742.65,582.89,423.13,263.37],"format":".2f","labelColor":"#1a1a1a","tickSize":4,"labelPadding":13,"domainWidth":3,"title":"Low Angle Light Scattering (mV)","titleColor":"#222","titleFontSize":6,"titleX":-80,"titleY":91,"titleAngle":270,"titleAlign":"center","titleBaseline":"middle"}},
"color":{"datum":"Low Angle Light Scattering","type":"nominal","scale":{"domain":["Refractive Index","Right Angle Light Scattering","Low Angle Light Scattering","Viscometer DP"],"range":["#ff0000","#008000","#000000","#0000ff"]}}}},
{"data":{"values":[{"x":9.72,"y":0.813,"label":"Crude Polysaccharide Extract"}]},"mark":{"type":"text","font":"Liberation Serif","fontWeight":"bold","fontSize":28,"color":"#1c6b1c"},
"encoding":{"x":{"field":"x","type":"quantitative","scale":{"domain":[0,30]}},"y":{"field":"y","type":"quantitative","scale":{"domain":[0,1]},"axis":null},"text":{"field":"label"}}}
],
"resolve":{"scale":{"y":"independent"}}},

{"width":818,"height":178,
"layer":[
{"data":{"name":"p3_rals"},"mark":{"type":"line","clip":true,"strokeWidth":2.5},
"encoding":{"x":{"field":"x","type":"quantitative","scale":{"domain":[0,30]},"axis":{"values":[0,2.73,5.46,8.18,10.91,13.64,16.36,19.09,21.82,24.55,27.27,30],"format":".2f","title":"Retention Volume (mL)","titleFontSize":7,"titleColor":"#222","labelColor":"#333","labelFontSize":7,"tickSize":2,"labelPadding":0,"titlePadding":0,"domainColor":"#8a8a8a","domainWidth":1}},
"y":{"field":"v","type":"quantitative","scale":{"domain":[28.23,62.94]},"axis":{"orient":"right","offset":88,"values":[62.94,60.46,57.98,55.51,53.03,50.55,48.07,45.59,43.11,40.63,38.15,35.67,33.19,30.71,28.23],"format":".2f","labelColor":"#2e9a2e","tickSize":9,"labelPadding":10,"domainWidth":3,"title":"Right Angle Light Scattering (mV)","titleColor":"#3ca03c","titleFontSize":6,"titleX":77,"titleY":89,"titleAngle":270,"titleAlign":"center","titleBaseline":"middle"}},
"color":{"datum":"Right Angle Light Scattering","type":"nominal","scale":{"domain":["Refractive Index","Right Angle Light Scattering","Low Angle Light Scattering","Viscometer DP"],"range":["#ff0000","#008000","#000000","#0000ff"]},
"legend":{"title":"2010-10-18_18;32;58_Aqueous_extract_01.vdt","orient":"none","legendX":-157,"legendY":193,"direction":"horizontal","columns":2,"gridAlign":"none","titleOrient":"left","titleAnchor":"start","titleBaseline":"top","titleFontSize":8,"titleFontWeight":"normal","titleColor":"#333","titlePadding":160,"titleLimit":500,"labelLimit":400,"labelFontSize":8,"labelColor":"#333","symbolType":"stroke","symbolSize":10000,"symbolStrokeWidth":1.5,"labelOffset":18,"columnPadding":85,"rowPadding":0,"padding":0,"clipHeight":7}}}},
{"data":{"name":"p3_ri"},"mark":{"type":"line","clip":true,"strokeWidth":2.5},
"encoding":{"x":{"field":"x","type":"quantitative","scale":{"domain":[0,30]}},
"y":{"field":"v","type":"quantitative","scale":{"domain":[-156.10,33.34]},"axis":{"orient":"left","offset":88,"values":[33.34,19.81,6.28,-7.26,-20.79,-34.32,-47.85,-61.38,-74.91,-88.44,-101.98,-115.51,-129.04,-142.57,-156.10],"format":".2f","labelColor":"#ff2a2a","tickSize":4,"labelPadding":13,"domainWidth":3,"title":"Refractive Index (mV)","titleColor":"#ff4040","titleFontSize":6,"titleX":-81,"titleY":89,"titleAngle":270,"titleAlign":"center","titleBaseline":"middle"}},
"color":{"datum":"Refractive Index","type":"nominal","scale":{"domain":["Refractive Index","Right Angle Light Scattering","Low Angle Light Scattering","Viscometer DP"],"range":["#ff0000","#008000","#000000","#0000ff"]}}}},
{"data":{"name":"p3_dp"},"mark":{"type":"line","clip":true,"strokeWidth":4.5},
"encoding":{"x":{"field":"x","type":"quantitative","scale":{"domain":[0,30]}},
"y":{"field":"v","type":"quantitative","scale":{"domain":[43.11,48.14]},"axis":{"orient":"right","offset":0,"values":[48.14,47.42,47.06,46.70,46.34,45.98,45.63,45.27,44.91,44.55,44.19,43.83,43.47,43.11],"format":".2f","labelColor":"#2b2bff","tickSize":9,"labelPadding":10,"domainWidth":3,"title":"Viscometer DP (mV)","titleColor":"#8c8cff","titleFontSize":6,"titleX":79,"titleY":89,"titleAngle":270,"titleAlign":"center","titleBaseline":"middle"}},
"color":{"datum":"Viscometer DP","type":"nominal","scale":{"domain":["Refractive Index","Right Angle Light Scattering","Low Angle Light Scattering","Viscometer DP"],"range":["#ff0000","#008000","#000000","#0000ff"]}}}},
{"data":{"name":"p3_lals"},"mark":{"type":"line","clip":true,"strokeWidth":2},
"encoding":{"x":{"field":"x","type":"quantitative","scale":{"domain":[0,30]}},
"y":{"field":"v","type":"quantitative","scale":{"domain":[263.90,436.10]},"axis":{"orient":"left","offset":0,"values":[436.10,423.80,411.50,399.20,386.90,374.60,362.30,350.00,337.70,325.40,313.10,300.80,288.50,276.20,263.90],"format":".2f","labelColor":"#1a1a1a","tickSize":4,"labelPadding":13,"domainWidth":3,"title":"Low Angle Light Scattering (mV)","titleColor":"#222","titleFontSize":6,"titleX":-80,"titleY":89,"titleAngle":270,"titleAlign":"center","titleBaseline":"middle"}},
"color":{"datum":"Low Angle Light Scattering","type":"nominal","scale":{"domain":["Refractive Index","Right Angle Light Scattering","Low Angle Light Scattering","Viscometer DP"],"range":["#ff0000","#008000","#000000","#0000ff"]}}}},
{"data":{"values":[{"x":11.7,"y":0.775,"label":"Aqueous Extract"}]},"mark":{"type":"text","font":"Liberation Serif","fontWeight":"bold","fontSize":26,"color":"#1c6b1c"},
"encoding":{"x":{"field":"x","type":"quantitative","scale":{"domain":[0,30]}},"y":{"field":"y","type":"quantitative","scale":{"domain":[0,1]},"axis":null},"text":{"field":"label"}}}
],
"resolve":{"scale":{"y":"independent"}}},

{"width":818,"height":193,
"layer":[
{"data":{"name":"p4_rals"},"mark":{"type":"area","clip":true,"interpolate":"step","color":"#008000"},
"encoding":{"x":{"field":"x","type":"quantitative","scale":{"domain":[0,30]},"axis":{"values":[0,2.73,5.46,8.18,10.91,13.64,16.36,19.09,21.82,24.55,27.27,30],"format":".2f","title":"Retention Volume (mL)","titleFontSize":7,"titleColor":"#222","labelColor":"#333","labelFontSize":7,"tickSize":2,"labelPadding":0,"titlePadding":0,"domainColor":"#8a8a8a","domainWidth":1}},
"y":{"field":"hi","type":"quantitative","scale":{"domain":[28.38,29.53]},"axis":{"orient":"right","offset":88,"values":[29.53,29.44,29.36,29.28,29.20,29.12,29.04,28.95,28.87,28.79,28.71,28.63,28.55,28.46,28.38],"format":".2f","labelColor":"#2e9a2e","tickSize":9,"labelPadding":10,"domainWidth":3,"title":"Right Angle Light Scattering (mV)","titleColor":"#3ca03c","titleFontSize":6,"titleX":77,"titleY":96,"titleAngle":270,"titleAlign":"center","titleBaseline":"middle"}},
"y2":{"field":"lo"}}},
{"data":{"name":"p4_ri"},"mark":{"type":"line","clip":true,"strokeWidth":2.5},
"encoding":{"x":{"field":"x","type":"quantitative","scale":{"domain":[0,30]}},
"y":{"field":"v","type":"quantitative","scale":{"domain":[-169.61,79.60]},"axis":{"orient":"left","offset":88,"values":[79.60,61.71,43.91,26.12,8.33,-9.47,-27.26,-45.05,-62.85,-80.64,-98.43,-116.23,-134.02,-151.81,-169.61],"format":".2f","labelColor":"#ff2a2a","tickSize":4,"labelPadding":13,"domainWidth":3,"title":"Refractive Index (mV)","titleColor":"#ff4040","titleFontSize":6,"titleX":-81,"titleY":96,"titleAngle":270,"titleAlign":"center","titleBaseline":"middle"}},
"color":{"datum":"Refractive Index","type":"nominal","scale":{"domain":["Refractive Index","Right Angle Light Scattering","Low Angle Light Scattering","Viscometer DP"],"range":["#ff0000","#008000","#000000","#0000ff"]},
"legend":{"title":"2010-10-18_19;03;35_Alcoholic_Extract_01.vdt","values":["Refractive Index","Right Angle Light Scattering"],"orient":"none","legendX":-157,"legendY":204,"direction":"horizontal","columns":2,"gridAlign":"none","titleOrient":"left","titleAnchor":"start","titleBaseline":"top","titleFontSize":8,"titleFontWeight":"normal","titleColor":"#333","titlePadding":128,"titleLimit":500,"labelLimit":400,"labelFontSize":8,"labelColor":"#333","symbolType":"stroke","symbolSize":10000,"symbolStrokeWidth":1.5,"labelOffset":18,"columnPadding":115,"rowPadding":0,"padding":0,"clipHeight":7}}}},
{"data":{"name":"p4_dp"},"mark":{"type":"line","clip":true,"strokeWidth":4.5},
"encoding":{"x":{"field":"x","type":"quantitative","scale":{"domain":[0,30]}},
"y":{"field":"v","type":"quantitative","scale":{"domain":[44.25,49.75]},"axis":{"orient":"right","offset":0,"values":[49.75,49.36,48.96,48.57,48.18,47.78,47.39,47.00,46.61,46.21,45.82,45.43,45.04,44.64,44.25],"format":".2f","labelColor":"#2b2bff","tickSize":9,"labelPadding":10,"domainWidth":3,"title":"Viscometer DP (mV)","titleColor":"#8c8cff","titleFontSize":6,"titleX":79,"titleY":96,"titleAngle":270,"titleAlign":"center","titleBaseline":"middle"}},
"color":{"datum":"Viscometer DP","type":"nominal","scale":{"domain":["Refractive Index","Right Angle Light Scattering","Low Angle Light Scattering","Viscometer DP"],"range":["#ff0000","#008000","#000000","#0000ff"]}}}},
{"data":{"name":"p4_lals"},"mark":{"type":"line","clip":true,"strokeWidth":2.5},
"encoding":{"x":{"field":"x","type":"quantitative","scale":{"domain":[0,30]}},
"y":{"field":"v","type":"quantitative","scale":{"domain":[263.60,407.96]},"axis":{"orient":"left","offset":0,"values":[407.96,397.65,387.33,377.02,366.71,356.40,346.09,335.78,325.47,315.16,304.85,294.54,284.23,273.91,263.60],"format":".2f","labelColor":"#1a1a1a","tickSize":4,"labelPadding":13,"domainWidth":3,"title":"Low Angle Light Scattering (mV)","titleColor":"#222","titleFontSize":6,"titleX":-80,"titleY":96,"titleAngle":270,"titleAlign":"center","titleBaseline":"middle"}},
"color":{"datum":"Low Angle Light Scattering","type":"nominal","scale":{"domain":["Refractive Index","Right Angle Light Scattering","Low Angle Light Scattering","Viscometer DP"],"range":["#ff0000","#008000","#000000","#0000ff"]}}}},
{"data":{"values":[{"x":12.14,"y":0.736,"label":"Alcoholic Extract"}]},"mark":{"type":"text","font":"Liberation Serif","fontWeight":"bold","fontSize":26,"color":"#1c6b1c"},
"encoding":{"x":{"field":"x","type":"quantitative","scale":{"domain":[0,30]}},"y":{"field":"y","type":"quantitative","scale":{"domain":[0,1]},"axis":null},"text":{"field":"label"}}}
],
"resolve":{"scale":{"y":"independent"}}}
],
"resolve":{"scale":{"y":"independent","color":"independent"}}
}
